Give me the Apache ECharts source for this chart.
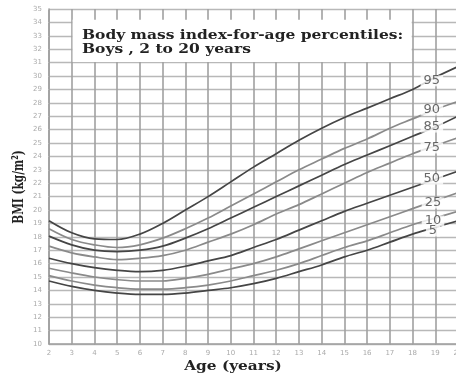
<!DOCTYPE html>
<html><head><meta charset="utf-8">
<script src="https://cdn.jsdelivr.net/npm/echarts@6/dist/echarts.min.js"></script>
<style>html,body{margin:0;padding:0;background:#fff}#c{width:456px;height:373px}</style>
</head><body><div id="c"></div>
<script>
const ages = [2,3,4,5,6,7,8,9,10,11,12,13,14,15,16,17,18,19,20];
const p95 = [19.2,18.3,17.85,17.8,18.2,19.0,20.0,21.0,22.1,23.2,24.2,25.2,26.1,26.9,27.6,28.3,29.0,29.9,30.7];
const p90 = [18.6,17.8,17.4,17.2,17.4,17.9,18.6,19.4,20.3,21.2,22.1,23.0,23.8,24.6,25.3,26.1,26.8,27.5,28.1];
const p85 = [18.05,17.4,17.0,16.9,17.0,17.3,17.9,18.6,19.4,20.2,21.0,21.8,22.6,23.4,24.1,24.8,25.5,26.2,27.0];
const p75 = [17.3,16.8,16.5,16.3,16.4,16.6,17.0,17.6,18.2,18.9,19.7,20.4,21.2,22.0,22.8,23.5,24.2,24.8,25.4];
const p50 = [16.4,16.0,15.7,15.5,15.4,15.5,15.8,16.2,16.6,17.2,17.8,18.5,19.2,19.9,20.5,21.1,21.7,22.3,22.9];
const p25 = [15.65,15.3,15.0,14.8,14.7,14.7,14.9,15.2,15.6,16.0,16.5,17.1,17.7,18.3,18.9,19.5,20.1,20.7,21.3];
const p10 = [15.1,14.7,14.4,14.2,14.1,14.1,14.2,14.4,14.7,15.1,15.5,16.0,16.6,17.2,17.7,18.3,18.9,19.4,19.9];
const p5  = [14.7,14.3,14.0,13.8,13.7,13.7,13.8,14.0,14.2,14.5,14.9,15.4,15.9,16.5,17.0,17.6,18.2,18.7,19.2];
const percentileNames = ['95','90','85','75','50','25','10','5'];
const percentileSeries = [p95,p90,p85,p75,p50,p25,p10,p5];
const labelAges = [18.85,18.85,18.85,18.85,18.85,18.9,18.9,18.9];
const labelValues = [29.64,27.46,26.19,24.63,22.31,20.52,19.18,18.43];
const titleLines = ['Body mass index-for-age percentiles:', 'Boys , 2 to 20 years'];
const xAxisTitle = 'Age (years)';
const yAxisTitle = 'BMI (kg/m\u00B2)';

const dark = '#454545', light = '#8a8a8a';
const lineColors = [dark, light, dark, light, dark, light, light, dark];
const vGrid = '#a0a0a0', hGrid = '#b8b8b8';

const series = percentileSeries.map((vals, i) => ({
  name: percentileNames[i],
  type: 'line',
  smooth: 0.35,
  showSymbol: false,
  silent: true,
  z: 3,
  lineStyle: { color: lineColors[i], width: 1.7 },
  data: ages.map((a, j) => [a, vals[j]])
}));

series.push({
  type: 'scatter',
  z: 6,
  silent: true,
  symbolSize: 1,
  itemStyle: { color: 'rgba(0,0,0,0)' },
  label: {
    show: true, position: 'inside',
    formatter: p => p.value[2],
    color: '#444', fontFamily: 'DejaVu Sans', fontSize: 13,
    backgroundColor: '#fff', padding: [0, 3], lineHeight: 11
  },
  data: labelAges.map((a, i) => [a, labelValues[i], percentileNames[i]])
});

const chart = echarts.init(document.getElementById('c'), null, { renderer: 'canvas' });
chart.setOption({
  animation: false,
  grid: { left: 49, top: 9, width: 409, height: 335, outerBoundsMode: 'none' },
  xAxis: {
    type: 'value', min: 2, max: 20, interval: 1,
    axisLine: { show: true, lineStyle: { color: vGrid, width: 1.6 } },
    axisTick: { show: true, length: 1, lineStyle: { color: vGrid } },
    axisLabel: { color: '#aaa', fontSize: 7, margin: 6, fontFamily: 'DejaVu Sans' },
    splitLine: { show: true, lineStyle: { color: vGrid, width: 1.6 } }
  },
  yAxis: {
    type: 'value', min: 10, max: 35, interval: 1,
    axisLine: { show: true, lineStyle: { color: vGrid, width: 1.6 } },
    axisTick: { show: true, length: 1, lineStyle: { color: hGrid } },
    axisLabel: { color: '#aaa', fontSize: 7, margin: 7, fontFamily: 'DejaVu Sans' },
    splitLine: { show: true, lineStyle: { color: hGrid, width: 1.4 } }
  },
  series: series
});

// title box in data coordinates, converted through the axes
const tl = chart.convertToPixel({ gridIndex: 0 }, [3.04, 34.2]);
const br = chart.convertToPixel({ gridIndex: 0 }, [17.96, 31.05]);
chart.setOption({
  graphic: [
    { type: 'rect', z: 1, silent: true,
      shape: { x: tl[0], y: tl[1], width: br[0] - tl[0], height: br[1] - tl[1] },
      style: { fill: '#fff' } },
    { type: 'text', x: 82, y: tl[1] + 9, z: 100, scaleX: 1.29,
      style: { text: titleLines.join('\n'), font: 'bold 12px "DejaVu Serif"', fill: '#222', lineHeight: 14 } },
    { type: 'text', x: 233, y: 367, z: 100, scaleX: 1.18,
      style: { text: xAxisTitle, font: 'bold 13px "DejaVu Serif"', fill: '#222', align: 'center', verticalAlign: 'middle' } },
    { type: 'text', x: 19, y: 187, rotation: Math.PI / 2, z: 100, scaleX: 0.88, scaleY: 1.3,
      style: { text: yAxisTitle, font: 'bold 12px "DejaVu Serif"', fill: '#222', align: 'center', verticalAlign: 'middle' } }
  ]
});
</script></body></html>
